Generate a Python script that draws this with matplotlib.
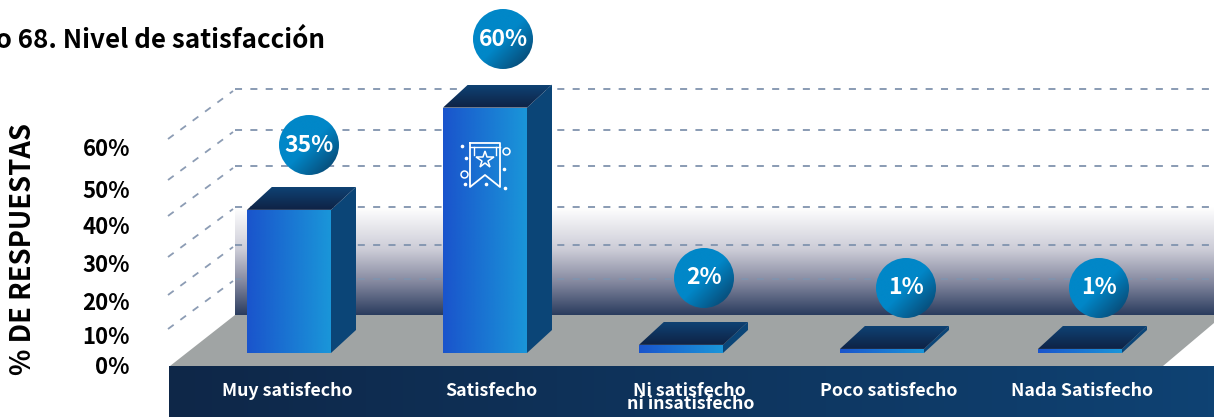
import numpy as np
import matplotlib
matplotlib.use("Agg")
import matplotlib.pyplot as plt
from matplotlib.colors import LinearSegmentedColormap
from matplotlib.patches import Polygon, Circle

plt.rcParams['font.family'] = ['Noto Sans CJK SC', 'DejaVu Sans']

categorias = ["Muy satisfecho", "Satisfecho", "Poco satisfecho", "Nada Satisfecho"]
valores = [35, 60, 2, 1, 1]
ticks = ["0%", "10%", "20%", "30%", "40%", "50%", "60%"]

# posiciones en pixeles de la imagen
bar_x = [247, 443, 639, 840, 1038]
bubble_x = [309, 503, 704, 906, 1099]
bubble_y = [145, 39, 278, 288, 288]
label_x = [287, 491, 889, 1082]
tick_y = [368, 338, 304, 265, 227, 191, 150]
grid_y = [279, 245, 207, 166, 130, 89]
bar_w = 84
dx = 25
dy = 23
px_per_pct = 4.09
base_y = 353

W, H = 1214, 417
fig = plt.figure(figsize=(W / 100, H / 100), dpi=100)
bg = fig.add_axes([0, 0, 1, 1])
bg.set_axis_off()

def grad(ax, colors, extent, direction, clip=None, zorder=1):
    cmap = LinearSegmentedColormap.from_list("g", colors)
    g = np.linspace(0, 1, 256)
    if direction == "h":
        img = g.reshape(1, -1)
    elif direction == "v":
        img = g.reshape(-1, 1)
    else:
        xx, yy = np.meshgrid(g, g)
        img = (xx + yy) / 2
    im = ax.imshow(img, cmap=cmap, extent=extent, aspect="auto", origin="upper", zorder=zorder, interpolation="bilinear")
    if clip is not None:
        im.set_clip_path(clip)
    return im

# fondo
grad(bg, [(0, "#ffffff"), (0.4, "#cbcbd6"), (0.7, "#83879e"), (1, "#2a3c5e")], (235, 1214, 315, 207), "v", zorder=1)
bg.add_patch(Polygon([(170, 366), (235, 315), (1214, 315), (1214, 323), (1163, 366)], fc="#a0a4a4", ec="none", zorder=2))
grad(bg, ["#0e2748", "#0e4273"], (169, 1214, 417, 366), "h", zorder=2)

# rejilla
for gy in grid_y:
    bg.plot([168, 233], [gy + 50, gy + 2], color="#8c9cb4", lw=1.3, dashes=(3.9, 4.6), zorder=1.5)
    bg.plot([235, 1214], [gy, gy], color="#8093ae", lw=1.3, dashes=(3.9, 4.6), zorder=1.5)

# barras en escala de porcentaje
ax = fig.add_axes([0, 0, 1, 1], facecolor="none")
ax.set_axis_off()
depth = dy / px_per_pct
bars = ax.bar(bar_x, valores, width=bar_w, align="edge", color="none", zorder=3)
for b, x, v in zip(bars, bar_x, valores):
    grad(ax, ["#1a54cc", "#1a96d9"], (x, x + bar_w, 0, v), "h", clip=b, zorder=3)
    side = Polygon([(x + bar_w, 0), (x + bar_w + dx, depth), (x + bar_w + dx, v + depth), (x + bar_w, v)], fc="#0b4577", ec="none", zorder=3)
    ax.add_patch(side)
    top = Polygon([(x, v), (x + dx, v + depth), (x + bar_w + dx, v + depth), (x + bar_w, v)], fc="none", ec="none", zorder=3)
    ax.add_patch(top)
    grad(ax, ["#0e4273", "#0f2245"], (x, x + bar_w + dx, v, v + depth), "v", clip=top, zorder=3)
ax.set_xlim(0, W)
ax.set_ylim((base_y - H) / px_per_pct, base_y / px_per_pct)

# capa de textos
fg = fig.add_axes([0, 0, 1, 1], facecolor="none")
fg.set_axis_off()

# globos
for x, y, v in zip(bubble_x, bubble_y, valores):
    c = Circle((x, y), 30, fc="none", ec="none", zorder=5)
    fg.add_patch(c)
    grad(fg, ["#0187c8", "#0187c8", "#0a3a60"], (x - 30, x + 30, y + 30, y - 30), "d", clip=c, zorder=5)
    fg.text(x, y, f"{v}%", color="white", fontsize=16.5, fontweight="black", ha="center", va="center", zorder=6)

# icono
ix = 485
fg.plot([470, 470, 485, 500, 500, 470], [143, 187, 175, 187, 143, 143], color="white", lw=1.3, zorder=5)
fg.plot([470, 500], [147, 147], color="white", lw=1.0, zorder=5)
fg.plot([474, 474], [147, 155], color="white", lw=1.0, zorder=5)
fg.plot([496, 496], [147, 155], color="white", lw=1.0, zorder=5)
fg.plot([ix], [160], marker="*", ms=13, mfc="none", mec="white", mew=1.1, zorder=5)
fg.plot([506, 464], [151, 174], "o", ms=5, mfc="none", mec="white", mew=1.1, zorder=5)
fg.plot([462, 466, 504, 486, 465, 505], [146, 158, 169, 184, 184, 188], "o", ms=1.6, color="white", zorder=5)

# textos
fg.text(325, 40, "Gráfico 68. Nivel de satisfacción", fontsize=18.7, fontweight="black", ha="right", va="center", color="black")
fg.text(23, 249, "% DE RESPUESTAS", fontsize=19.7, fontweight="black", rotation=90, ha="center", va="center", color="black")
for t, y in zip(ticks, tick_y):
    fg.text(130, y, t, fontsize=15.9, fontweight="black", ha="right", va="center", color="black")
for lab, x in zip(categorias, label_x):
    fg.text(x, 391, lab, fontsize=12.8, fontweight="bold", color="white", ha="center", va="center")
fg.text(689, 391, "Ni satisfecho", fontsize=12.8, fontweight="bold", color="white", ha="center", va="center")
fg.text(691, 404, "ni insatisfecho", fontsize=12.8, fontweight="bold", color="white", ha="center", va="center")

for a in (bg, fg):
    a.set_xlim(0, W)
    a.set_ylim(H, 0)

fig.savefig("out.png", dpi=100)
